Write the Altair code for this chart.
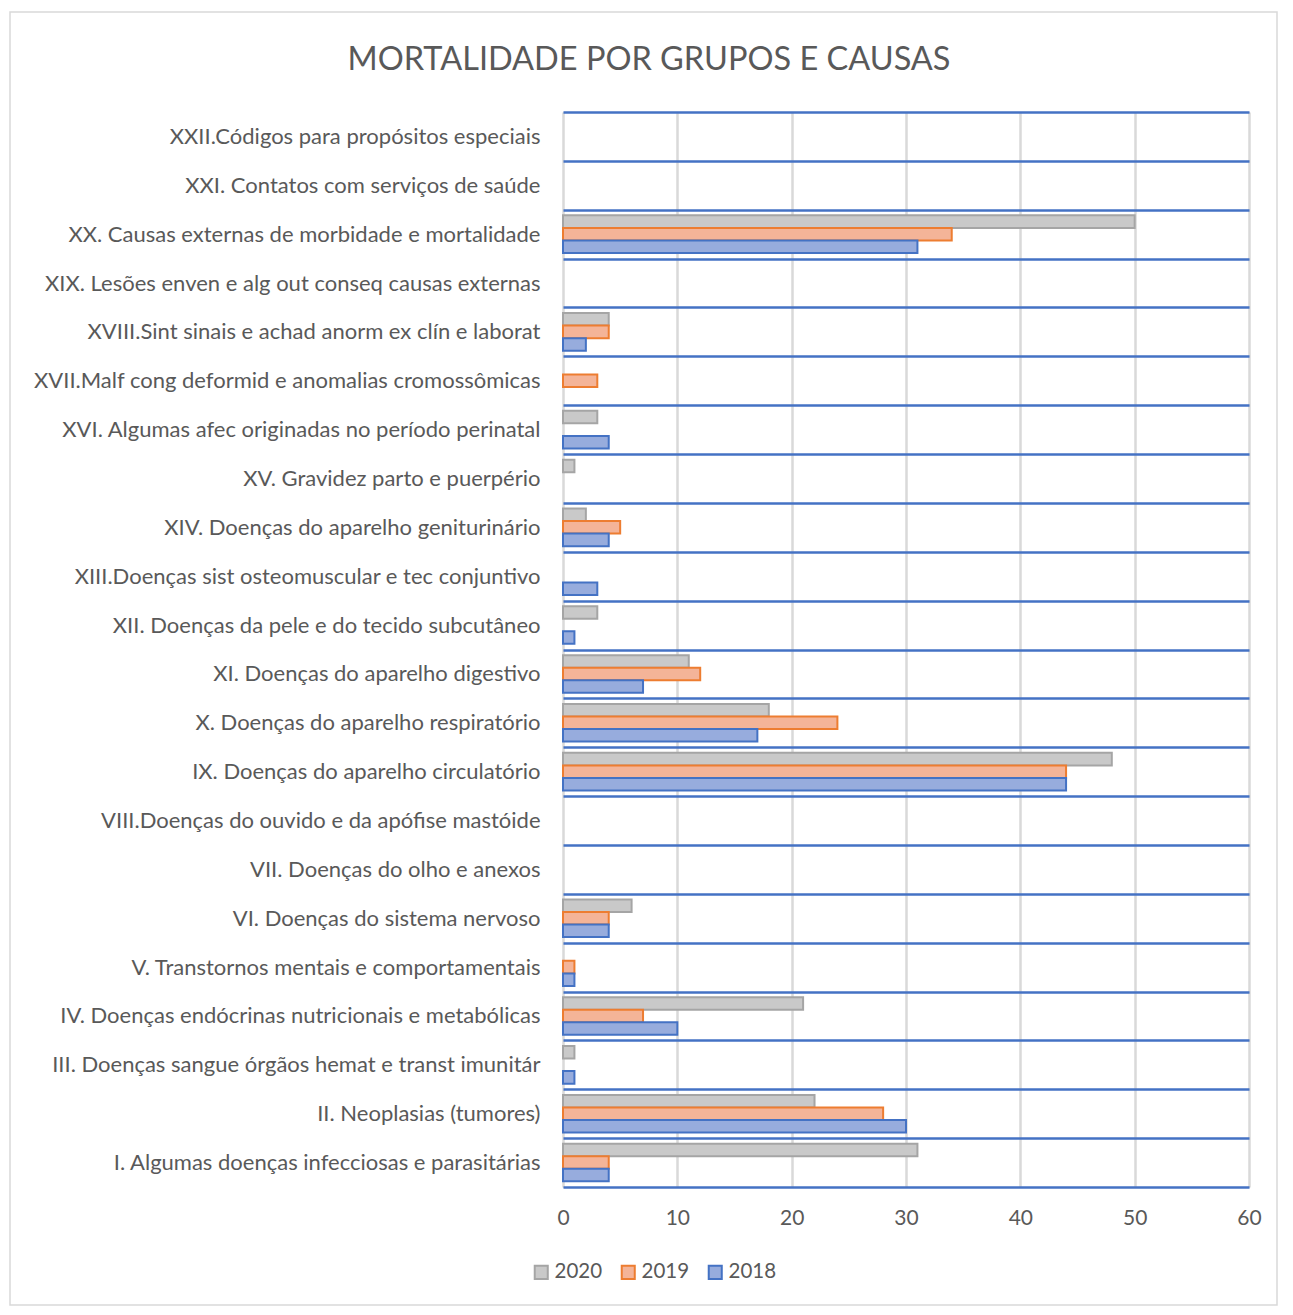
import altair as alt
import pandas as pd

categorias = [
    "I. Algumas doenças infecciosas e parasitárias",
    "II. Neoplasias (tumores)",
    "III. Doenças sangue órgãos hemat e transt imunitár",
    "IV. Doenças endócrinas nutricionais e metabólicas",
    "V. Transtornos mentais e comportamentais",
    "VI. Doenças do sistema nervoso",
    "VII. Doenças do olho e anexos",
    "VIII.Doenças do ouvido e da apófise mastóide",
    "IX. Doenças do aparelho circulatório",
    "X. Doenças do aparelho respiratório",
    "XI. Doenças do aparelho digestivo",
    "XII. Doenças da pele e do tecido subcutâneo",
    "XIII.Doenças sist osteomuscular e tec conjuntivo",
    "XIV. Doenças do aparelho geniturinário",
    "XV. Gravidez parto e puerpério",
    "XVI. Algumas afec originadas no período perinatal",
    "XVII.Malf cong deformid e anomalias cromossômicas",
    "XVIII.Sint sinais e achad anorm ex clín e laborat",
    "XIX. Lesões enven e alg out conseq causas externas",
    "XX. Causas externas de morbidade e mortalidade",
    "XXI. Contatos com serviços de saúde",
    "XXII.Códigos para propósitos especiais",
]
v2020 = [31, 22, 1, 21, 0, 6, 0, 0, 48, 18, 11, 3, 0, 2, 1, 3, 0, 4, 0, 50, 0, 0]
v2019 = [4, 28, 0, 7, 1, 4, 0, 0, 44, 24, 12, 0, 0, 5, 0, 0, 3, 4, 0, 34, 0, 0]
v2018 = [4, 30, 1, 10, 1, 4, 0, 0, 44, 17, 7, 1, 3, 4, 0, 4, 0, 2, 0, 31, 0, 0]
anos = ["2020", "2019", "2018"]
x_ticks = [0, 10, 20, 30, 40, 50, 60]

fills = ["#C9C9C9", "#F4B498", "#97ACDD"]
strokes = ["#A5A5A5", "#ED7D31", "#4472C4"]

rows = []
for c, a, b, d in zip(categorias, v2020, v2019, v2018):
    rows.append({"causa": c, "ano": "2020", "valor": a})
    rows.append({"causa": c, "ano": "2019", "valor": b})
    rows.append({"causa": c, "ano": "2018", "valor": d})
df = pd.DataFrame(rows)

font = "Lato"
txt = "#595959"

legend = alt.Legend(
    title=None, orient="none", legendX=-32, legendY=1150, direction="horizontal",
    symbolType="square", symbolSize=170, symbolStrokeWidth=2, labelFontSize=20.5,
    labelFont=font, labelColor=txt, columnPadding=14, labelOffset=3,
)

bars = alt.Chart(df).transform_filter("datum.valor > 0").mark_bar(strokeWidth=2).encode(
    x=alt.X("valor:Q", scale=alt.Scale(domain=[0, 60], nice=False),
            axis=alt.Axis(values=x_ticks, title=None, grid=True, gridColor="#D9D9D9",
                          gridWidth=2.5, domain=False, ticks=False, labelFontSize=21,
                          labelFont=font, labelColor=txt, labelPadding=20, labelFlush=False)),
    y=alt.Y("causa:N", scale=alt.Scale(domain=list(reversed(categorias)), paddingInner=0, paddingOuter=0),
            axis=alt.Axis(title=None, grid=True, tickBand="extent", gridColor="#4472C4",
                          gridWidth=2.5, domain=False, ticks=False, labelFontSize=22,
                          labelFont=font, labelColor=txt, labelPadding=23, labelLimit=700)),
    yOffset=alt.YOffset("ano:N", scale=alt.Scale(domain=anos, paddingOuter=0.45, paddingInner=0)),
    fill=alt.Fill("ano:N", scale=alt.Scale(domain=anos, range=fills), legend=legend),
    stroke=alt.Stroke("ano:N", scale=alt.Scale(domain=anos, range=strokes), legend=legend),
)

frame = alt.Chart(pd.DataFrame({"k": [0]})).mark_rect(
    fill="white", fillOpacity=0, stroke="#D9D9D9", strokeWidth=1.5
).encode(x=alt.value(-553), x2=alt.value(714), y=alt.value(-100), y2=alt.value(1193))

chart = alt.layer(frame, bars).properties(
    width=686, height=1075,
    padding={"left": 555, "top": 104, "right": 30, "bottom": 120},
    autosize=alt.AutoSizeParams(type="none"),
    title=alt.TitleParams("MORTALIDADE POR GRUPOS E CAUSAS", fontSize=32.5, font=font,
                          color=txt, fontWeight="normal", anchor="middle", dx=-257, offset=-65),
).configure_view(strokeWidth=0).configure(background="white")

chart.save("out.html", embed_options={"renderer": "svg", "actions": False})
